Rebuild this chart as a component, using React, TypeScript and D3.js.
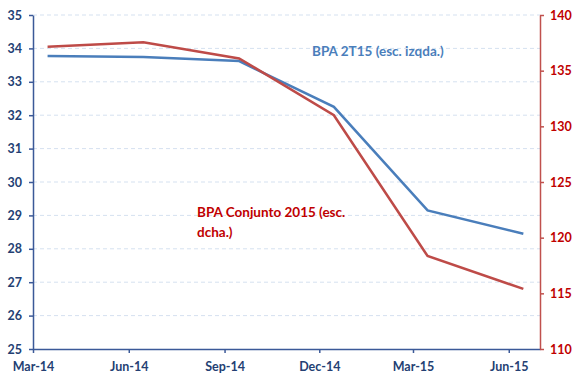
import { useEffect, useRef } from "react";
import * as d3 from "d3";

const quarters = ["2014-03-15", "2014-06-15", "2014-09-15", "2014-12-15", "2015-03-15", "2015-06-15"];
const tickMonths = ["2014-03-01", "2014-06-01", "2014-09-01", "2014-12-01", "2015-03-01", "2015-06-01"];
const bpa2T15 = [33.77, 33.74, 33.62, 32.25, 29.15, 28.45];
const bpaConjunto = [137.15, 137.55, 136.1, 131.0, 118.35, 115.4];
const leftTicks = [25, 26, 27, 28, 29, 30, 31, 32, 33, 34, 35];
const rightTicks = [110, 115, 120, 125, 130, 135, 140];

const parse = d3.timeParse("%Y-%m-%d");

export default function App() {
  const svgRef = useRef<SVGSVGElement>(null);

  useEffect(() => {
    if (!svgRef.current) return;
    const svg = d3.select(svgRef.current);
    svg.selectAll("*").remove();

    const left = 33;
    const right = 540;
    const top = 15;
    const bottom = 349;
    const font = "Lato, 'Open Sans', sans-serif";
    const navy = "#3b5998";
    const axisRed = "#c0504d";

    const x = d3
      .scaleTime()
      .domain([parse("2014-03-01")!, parse("2015-07-01")!])
      .range([left, right]);
    const yL = d3.scaleLinear().domain([25, 35]).range([bottom, top]);
    const yR = d3.scaleLinear().domain([110, 140]).range([bottom, top]);

    // gridlines
    svg
      .append("g")
      .selectAll("line")
      .data(leftTicks.filter((t) => t > 25))
      .join("line")
      .attr("x1", left)
      .attr("x2", right)
      .attr("y1", (d) => yL(d))
      .attr("y2", (d) => yL(d))
      .attr("stroke", "#d5e1f0")
      .attr("stroke-width", 1)
      .attr("stroke-dasharray", "4,3");

    // left axis
    const gL = svg.append("g").attr("transform", `translate(${left},0)`);
    gL.call(d3.axisLeft(yL).tickValues(leftTicks).tickSize(4).tickSizeOuter(0).tickPadding(7));
    gL.select(".domain").attr("stroke", navy).attr("stroke-width", 1.5);
    gL.selectAll(".tick line").attr("stroke", navy).attr("stroke-width", 1.5);
    gL.selectAll(".tick text")
      .attr("fill", "#243f73")
      .attr("font-family", font)
      .attr("font-weight", "bold")
      .attr("font-size", 12.5);

    // bottom axis
    const gB = svg.append("g").attr("transform", `translate(0,${bottom})`);
    gB.call(
      d3
        .axisBottom(x)
        .tickValues(tickMonths.map((d) => parse(d)!))
        .tickFormat((d) => d3.timeFormat("%b-%y")(d as Date))
        .tickSize(4)
        .tickSizeOuter(0)
        .tickPadding(9)
    );
    gB.select(".domain").attr("stroke", navy).attr("stroke-width", 1.5);
    gB.selectAll(".tick line").attr("stroke", navy).attr("stroke-width", 1.5);
    gB.selectAll(".tick text")
      .attr("fill", "#243f73")
      .attr("font-family", font)
      .attr("font-weight", "bold")
      .attr("font-size", 12.5);

    // right axis
    const gR = svg.append("g").attr("transform", `translate(${right},0)`);
    gR.call(d3.axisRight(yR).tickValues(rightTicks).tickSize(4).tickSizeOuter(0).tickPadding(6));
    gR.select(".domain").attr("stroke", axisRed).attr("stroke-width", 1.5);
    gR.selectAll(".tick line").attr("stroke", axisRed).attr("stroke-width", 1.5);
    gR.selectAll(".tick text")
      .attr("fill", "#c00000")
      .attr("font-family", font)
      .attr("font-weight", "bold")
      .attr("font-size", 12.5);

    const dates = quarters.map((d) => parse(d)!);

    const lineL = d3
      .line<number>()
      .x((_, i) => x(dates[i]))
      .y((d) => yL(d));
    const lineR = d3
      .line<number>()
      .x((_, i) => x(dates[i]))
      .y((d) => yR(d));

    svg
      .append("path")
      .datum(bpa2T15)
      .attr("fill", "none")
      .attr("stroke", "#4a7ebb")
      .attr("stroke-width", 2.5)
      .attr("d", lineL);

    svg
      .append("path")
      .datum(bpaConjunto)
      .attr("fill", "none")
      .attr("stroke", "#be4b48")
      .attr("stroke-width", 2.5)
      .attr("d", lineR);

    // labels
    svg
      .append("text")
      .attr("x", 312)
      .attr("y", 56)
      .attr("fill", "#4a7ebb")
      .attr("font-family", font)
      .attr("font-weight", "bold")
      .attr("font-size", 13.5)
      .text("BPA 2T15 (esc. izqda.)");

    const red = svg
      .append("text")
      .attr("fill", "#c00000")
      .attr("font-family", font)
      .attr("font-weight", "bold")
      .attr("font-size", 13.5);
    red.append("tspan").attr("x", 197).attr("y", 217).text("BPA Conjunto 2015 (esc.");
    red.append("tspan").attr("x", 197).attr("y", 237).text("dcha.)");
  }, []);

  return (
    <svg
      ref={svgRef}
      width={580}
      height={384}
      style={{ position: "absolute", left: 0, top: 0, background: "#fff" }}
    />
  );
}
